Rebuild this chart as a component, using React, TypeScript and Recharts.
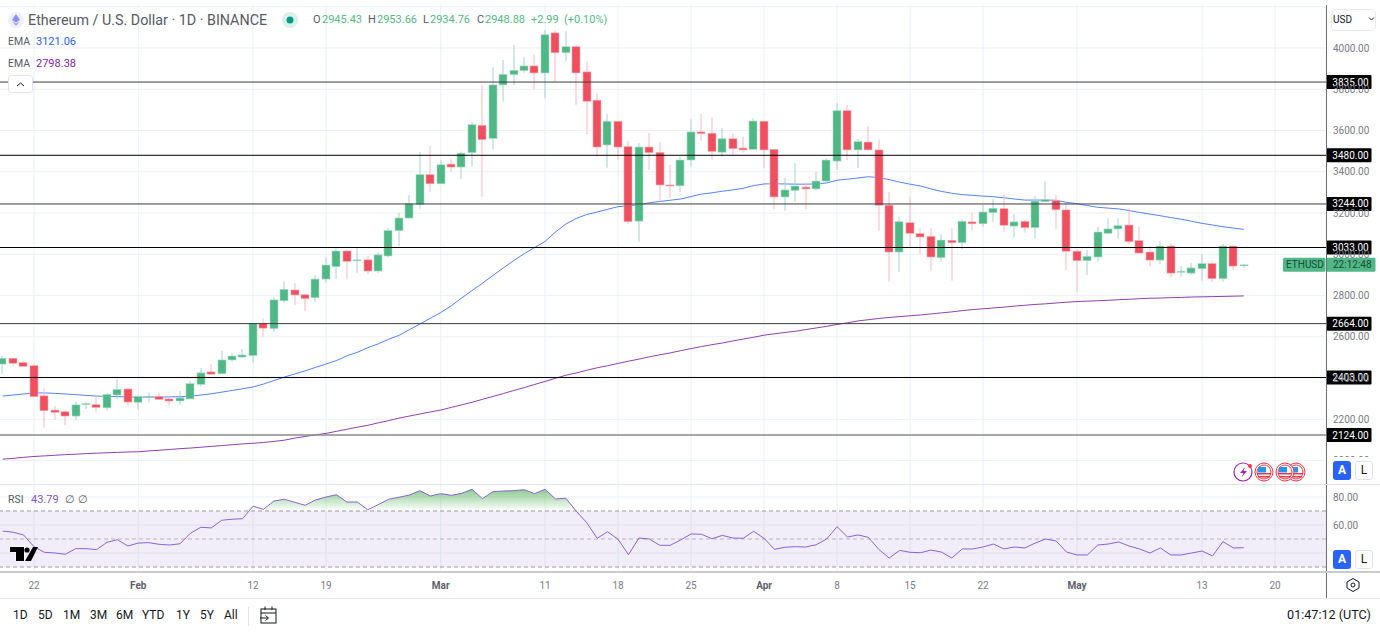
import { ComposedChart, Bar, Line, Area, XAxis, YAxis, CartesianGrid, ReferenceLine, ReferenceArea } from 'recharts';

// days counted from Jan 19, one entry per daily candle
const opens = [2468,2496,2475,2460,2314,2245,2237,2216,2272,2271,2256,2318,2347,2283,2310,2310,2299,2289,2299,2370,2430,2421,2488,2502,2509,2666,2640,2775,2827,2804,2790,2880,2940,3016,2969,2973,2919,2992,3115,3176,3242,3386,3342,3437,3423,3493,3625,3562,3821,3871,3890,3913,3879,4073,3977,4006,3884,3747,3530,3645,3522,3161,3520,3494,3336,3332,3457,3593,3587,3495,3560,3515,3509,3645,3509,3278,3310,3326,3317,3355,3452,3696,3506,3544,3506,3238,3011,3153,3100,3087,2984,3068,3056,3157,3148,3202,3221,3137,3160,3129,3255,3260,3215,3015,2969,2987,3102,3123,3142,3066,3011,2972,3040,2914,2909,2930,2955,2882,3040,2945.43];
const highs = [2507,2497,2484,2467,2351,2265,2242,2286,2286,2310,2326,2394,2353,2318,2329,2327,2310,2338,2387,2449,2468,2533,2520,2541,2666,2690,2792,2868,2860,2808,2899,2985,3029,3021,3029,2992,3008,3126,3202,3287,3497,3525,3457,3460,3498,3643,3821,3906,3942,4015,3955,3968,4087,4087,4082,4015,3934,3780,3679,3645,3549,3539,3589,3543,3434,3473,3654,3680,3664,3612,3587,3570,3659,3645,3509,3370,3441,3349,3400,3465,3732,3724,3559,3622,3557,3302,3181,3279,3126,3126,3098,3126,3170,3202,3239,3268,3292,3194,3166,3283,3355,3287,3250,3024,3021,3134,3175,3175,3223,3134,3040,3064,3053,2943,2959,3002,2964,3050,3040,2953.66];
const lows = [2420,2459,2455,2310,2159,2197,2172,2197,2250,2237,2242,2298,2266,2248,2283,2294,2269,2269,2299,2358,2415,2419,2480,2499,2475,2600,2625,2766,2754,2724,2768,2863,2880,2878,2911,2905,2911,2985,3040,3170,3221,3303,3342,3399,3364,3425,3279,3509,3740,3821,3880,3801,3756,3835,3934,3724,3582,3473,3420,3457,3147,3061,3409,3255,3274,3303,3425,3551,3460,3473,3480,3493,3509,3418,3220,3211,3255,3220,3312,3352,3409,3457,3418,3506,3115,2868,2913,3037,3002,2924,2962,2872,3024,3118,3134,3158,3110,3081,3105,3077,3255,3123,2924,2817,2900,2964,3098,3076,3050,3005,2940,2952,2888,2891,2901,2872,2865,2868,2924,2934.76];
const closes = [2496,2472,2457,2310,2242,2234,2216,2270,2276,2258,2321,2345,2284,2310,2312,2297,2289,2304,2373,2425,2419,2488,2507,2512,2666,2642,2779,2830,2803,2785,2880,2948,3016,2966,2973,2919,2997,3115,3176,3245,3386,3342,3434,3423,3490,3628,3556,3821,3872,3892,3913,3879,4064,3977,4006,3879,3742,3520,3645,3520,3158,3520,3493,3336,3332,3457,3593,3585,3499,3560,3512,3506,3646,3506,3278,3312,3331,3317,3355,3457,3696,3506,3546,3506,3238,3011,3158,3102,3084,2987,3069,3056,3160,3148,3205,3223,3141,3157,3129,3258,3265,3216,3015,2969,2990,3108,3123,3139,3061,3006,2972,3040,2909,2918,2934,2955,2882,3040,2943,2948.88];
const emaFast = [2313,2318,2323,2328,2328,2326,2323,2320,2316,2313,2311,2310,2309,2308,2308,2308,2309,2310,2312,2318,2324,2332,2340,2348,2357,2371,2388,2405,2420,2435,2452,2468,2485,2508,2525,2547,2566,2588,2607,2635,2662,2690,2718,2750,2788,2824,2860,2897,2934,2970,3003,3033,3062,3108,3147,3174,3193,3205,3218,3231,3235,3240,3250,3256,3262,3268,3280,3292,3298,3306,3312,3320,3333,3341,3342,3341,3340,3340,3341,3346,3359,3364,3370,3376,3372,3362,3350,3340,3331,3317,3305,3296,3289,3286,3282,3279,3274,3268,3263,3263,3263,3262,3252,3245,3236,3228,3224,3220,3212,3203,3195,3187,3178,3170,3160,3150,3142,3134,3127,3121.06];
const emaSlow = [2007,2011,2016,2020,2023,2026,2029,2031,2034,2036,2038,2040,2042,2043,2047,2050,2054,2058,2061,2065,2069,2073,2077,2081,2084,2088,2093,2099,2109,2117,2125,2132,2142,2152,2162,2171,2183,2194,2206,2216,2226,2236,2245,2258,2270,2283,2297,2311,2325,2340,2354,2369,2384,2399,2414,2425,2438,2450,2460,2471,2482,2492,2503,2513,2522,2533,2543,2553,2562,2570,2580,2589,2598,2608,2615,2621,2627,2635,2643,2651,2660,2668,2677,2683,2689,2694,2698,2702,2706,2711,2716,2721,2727,2732,2736,2740,2744,2749,2753,2757,2760,2764,2768,2771,2773,2775,2777,2780,2782,2785,2787,2788,2790,2791,2793,2794,2795,2796,2797,2798.38];
const rsi = [55.7,54.8,52.9,44.5,40.5,40,39.1,43.1,43.1,42.4,47.6,49.5,45,47.1,47.4,46.2,45.7,46.6,54.1,58.4,57.9,63.4,64.1,64.5,73.4,71.2,77.1,78.4,76.2,74.1,77.9,80,81.6,76.4,76.4,70.9,74.5,78.4,79.8,81.4,84.5,80.7,82.4,81.2,82.6,85.5,78.8,83.8,84.3,84.5,85.2,82.4,85.5,78.6,79.1,69.8,61.6,50.5,55.2,49.8,38.8,50.7,50,45.5,45.5,49.3,53.6,53.4,50.2,52.6,50.7,50.5,55.5,50.5,42.6,44.1,44.5,44.3,45.9,50,58.8,51.4,52.9,51.2,42.6,36.4,41.9,40.5,40.2,42.1,40.7,36.4,42.9,42.9,44.3,46.4,42.9,44.3,43.6,47.1,50,48.6,40.7,38.6,38.6,45.7,46.4,47.9,45,42.9,40,43.6,38.6,38.6,40,41.4,37.9,48.1,43.6,43.79];

const levels = [3835, 3480, 3244, 3033, 2664, 2403, 2124];
const levelStrokes = ['#3c3c3c', '#000', '#3c3c3c', '#000', '#3c3c3c', '#000', '#8a8a8a'];
const levelWidths = [1, 1, 1, 1, 1, 1, 1.6];
const priceTicks = [4200, 4000, 3800, 3600, 3400, 3200, 3000, 2800, 2600, 2400, 2200, 2000];
const rsiTicks = [80, 60];
const rsiGrid = [80, 60, 40];
const dayTicks = [3, 13, 24, 31, 42, 52, 59, 66, 73, 80, 87, 94, 103, 115, 122];
const dayLabels = ['22', 'Feb', '12', '19', 'Mar', '11', '18', '25', 'Apr', '8', '15', '22', 'May', '13', '20'];
const rangeButtons = [['1D', 13], ['5D', 38], ['1M', 63], ['3M', 90], ['6M', 116], ['YTD', 142], ['1Y', 176], ['5Y', 200], ['All', 224]];

const rows = opens.map((open, i) => ({
  day: i,
  open,
  high: highs[i],
  low: lows[i],
  close: closes[i],
  range: [lows[i], highs[i]],
  emaFast: emaFast[i],
  emaSlow: emaSlow[i],
  rsi: rsi[i],
  above: [70, Math.max(rsi[i], 70)],
}));

const FONT = 'Roboto, sans-serif';
const UP = '#50b887';
const DOWN = '#ef5060';
const GRID = '#eaf0f5';
const DAY_DOMAIN = [-0.26, 126.88];
const lastClose = closes[closes.length - 1];

function Candle(props: any) {
  const { x, y, width, height, payload } = props;
  const perUnit = height / (payload.high - payload.low);
  const up = payload.close >= payload.open;
  const cx = Math.round(x + width / 2) ;
  const top = y + (payload.high - Math.max(payload.open, payload.close)) * perUnit;
  const h = Math.max(Math.abs(payload.close - payload.open) * perUnit, 1);
  return (
    <g>
      <line x1={cx} x2={cx} y1={y} y2={y + height} stroke={up ? '#a9d0d2' : '#f9b9c4'} strokeWidth={1} />
      <rect x={cx - 4} y={top} width={8} height={h} fill={up ? UP : DOWN} stroke={up ? '#a7dcc3' : '#f7a8b2'} strokeWidth={0.6} />
    </g>
  );
}

function PriceTag(props: any) {
  const { viewBox, text } = props;
  const x = viewBox.x + viewBox.width + 0.5;
  return (
    <g>
      <rect x={x} y={viewBox.y - 7} width={45} height={14} rx={1} fill="#000" />
      <text x={x + 24} y={viewBox.y + 3.5} textAnchor="middle" fill="#fff" fontSize={10} fontFamily={FONT}>{text}</text>
    </g>
  );
}

function LastTag(props: any) {
  const { viewBox } = props;
  const x = viewBox.x + viewBox.width;
  return (
    <g fontFamily={FONT} fontSize={10} fill="#174a37">
      <rect x={x - 43} y={viewBox.y - 7} width={42.5} height={14} rx={1.5} fill={UP} />
      <rect x={x} y={viewBox.y - 7} width={49.5} height={14} rx={1.5} fill={UP} />
      <text x={x - 40} y={viewBox.y + 3.5}>ETHUSD</text>
      <text x={x + 7} y={viewBox.y + 3.5}>22:12:48</text>
    </g>
  );
}

function DayTick(props: any) {
  const { x, y, payload } = props;
  const label = dayLabels[dayTicks.indexOf(payload.value)];
  const month = label && isNaN(Number(label));
  return (
    <text x={x} y={y + 11} textAnchor="middle" fontSize={10} fontFamily={FONT} fontWeight={month ? 700 : 400} fill={month ? '#5d606b' : '#787b86'}>
      {label}
    </text>
  );
}

function MainPane() {
  return (
    <ComposedChart width={1380} height={479} data={rows} margin={{ top: 0, right: 0, bottom: 0, left: 0 }} style={{ position: 'absolute', left: 0, top: 5 }}>
      <CartesianGrid stroke={GRID} horizontalValues={priceTicks} verticalValues={dayTicks} />
      <XAxis dataKey="day" type="number" domain={DAY_DOMAIN} allowDataOverflow ticks={dayTicks} hide />
      <YAxis
        orientation="right"
        width={54}
        domain={[1886.7, 4208.4]}
        allowDataOverflow
        ticks={priceTicks.slice(1)}
        interval={0}
        axisLine={false}
        tickLine={false}
        tickFormatter={(v) => v.toFixed(2)}
        tick={{ fontSize: 10, fontFamily: FONT, fill: '#787b86' }}
        tickMargin={1}
      />
      <Line dataKey="emaFast" stroke="#2962ff" strokeWidth={1} strokeOpacity={0.8} dot={false} isAnimationActive={false} zIndex={250} />
      <Line dataKey="emaSlow" stroke="#7b1fa2" strokeWidth={1} strokeOpacity={0.85} dot={false} isAnimationActive={false} zIndex={250} />
      <Bar dataKey="range" barSize={8} shape={<Candle />} isAnimationActive={false} />
      {levels.map((level, i) => (
        <ReferenceLine
          key={level}
          y={level}
          stroke={levelStrokes[i]}
          strokeWidth={levelWidths[i]}
          zIndex={450}
          label={(p: any) => <PriceTag {...p} text={level.toFixed(2)} />}
        />
      ))}
      <ReferenceLine y={lastClose} stroke="none" zIndex={450} label={(p: any) => <LastTag {...p} />} />
    </ComposedChart>
  );
}

function RsiPane() {
  return (
    <ComposedChart width={1380} height={113} data={rows} margin={{ top: 0, right: 0, bottom: 0, left: 0 }} style={{ position: 'absolute', left: 0, top: 485 }}>
      <defs>
        <linearGradient id="overbought" x1="0" y1="0" x2="0" y2="1">
          <stop offset="0%" stopColor="#4caf50" stopOpacity={0.65} />
          <stop offset="100%" stopColor="#4caf50" stopOpacity={0} />
        </linearGradient>
      </defs>
      <CartesianGrid stroke={GRID} horizontalValues={rsiGrid} verticalValues={dayTicks} />
      <XAxis
        dataKey="day"
        type="number"
        domain={DAY_DOMAIN}
        allowDataOverflow
        ticks={dayTicks}
        interval={0}
        height={28}
        axisLine={false}
        tickLine={false}
        tick={<DayTick />}
      />
      <YAxis
        orientation="right"
        width={54}
        domain={[27.86, 88.57]}
        allowDataOverflow
        ticks={rsiTicks}
        interval={0}
        axisLine={false}
        tickLine={false}
        tickFormatter={(v) => v.toFixed(2)}
        tick={{ fontSize: 10, fontFamily: FONT, fill: '#787b86' }}
        tickMargin={1}
      />
      <ReferenceArea y1={30} y2={70} fill="#7e57c2" fillOpacity={0.1} stroke="none" />
      <ReferenceLine y={70} stroke="#9a9aa2" strokeDasharray="4 3" />
      <ReferenceLine y={50} stroke="#b4b4ba" strokeDasharray="4 3" />
      <ReferenceLine y={30} stroke="#9a9aa2" strokeDasharray="4 3" />
      <Area dataKey="above" stroke="none" fill="url(#overbought)" fillOpacity={1} dot={false} isAnimationActive={false} />
      <Line dataKey="rsi" stroke="#8a63d2" strokeWidth={1} dot={false} isAnimationActive={false} />
    </ComposedChart>
  );
}

function Flag({ cx }: { cx: number }) {
  return (
    <g>
      <circle cx={cx} cy={472} r={9} fill="#fff" stroke="#f23645" strokeWidth={1} />
      <circle cx={cx} cy={472} r={7} fill="#fff" stroke="#f23645" strokeWidth={1} />
      <rect x={cx - 7} y={473} width={14} height={1.5} fill="#f23645" />
      <rect x={cx - 6} y={476} width={12} height={1.5} fill="#f23645" />
      <rect x={cx - 6} y={467} width={8} height={5.5} fill="#2196f3" />
    </g>
  );
}

function Overlays() {
  const small = { position: 'absolute', whiteSpace: 'nowrap', lineHeight: '14px' } as const;
  const btn = (left: number, top: number, on: boolean, text: string) => (
    <div style={{ position: 'absolute', left, top, width: 18, height: 19, borderRadius: 3, background: on ? '#2962ff' : '#fff', border: on ? 'none' : '1px solid #e0e3eb', boxSizing: 'border-box', color: on ? '#fff' : '#131722', fontSize: 12, fontWeight: on ? 700 : 400, textAlign: 'center', lineHeight: on ? '19px' : '17px' }}>
      {text}
    </div>
  );
  const ohlc: [string, number, string, number][] = [['O', 313, '2945.43', 322], ['H', 368, '2953.66', 377], ['L', 423, '2934.76', 430], ['C', 477, '2948.88', 485]];
  return (
    <>
      <div style={{ position: 'absolute', left: 1327, top: 457, width: 53, height: 27, background: '#fff' }} />
      <div style={{ position: 'absolute', left: 1326, top: 5, width: 1, height: 593, background: '#6a6d78' }} />
      <div style={{ position: 'absolute', left: 0, top: 484, width: 1380, height: 1, background: '#e0e3eb' }} />
      <div style={{ position: 'absolute', left: 0, top: 571, width: 1380, height: 2, background: '#c9cbd0' }} />
      <div style={{ position: 'absolute', left: 0, top: 598, width: 1326, height: 1, background: '#e6e8ee' }} />
      <div style={{ position: 'absolute', left: 1327, top: 598, width: 53, height: 1, background: '#e6e8ee' }} />
      <div style={{ position: 'absolute', left: 8, top: 75, width: 25, height: 18, border: '1px solid #e0e3eb', borderRadius: 3, boxSizing: 'border-box', background: '#fff' }} />

      <svg width={1380} height={633} style={{ position: 'absolute', left: 0, top: 0, pointerEvents: 'none' }}>
        <circle cx={16} cy={20} r={8} fill="#eef0fb" />
        <path d="M16 14 L20 20 L16 22.5 L12 20 Z" fill="#8c8ff0" />
        <path d="M16 23.5 L20 21 L16 26 L12 21 Z" fill="#b79cf0" />
        <circle cx={290} cy={20} r={8} fill="#d9f0ea" />
        <circle cx={290} cy={20} r={3.5} fill="#089981" />
        <path d="M17 86 L20.5 83 L24 86" fill="none" stroke="#131722" strokeWidth={1} />
        <path d="M10 547 H24 V561 H16 V552 H10 Z" fill="#000" stroke="#fff" strokeWidth={1} paintOrder="stroke" />
        <circle cx={27} cy={550} r={2.6} fill="#000" />
        <path d="M33 547 H38 L31 561 H25 Z" fill="#000" />
        <circle cx={1243} cy={472} r={9} fill="#fff" stroke="#9c27b0" strokeWidth={1.2} />
        <path d="M1245 467 L1240 473 H1243.5 L1241.5 477.5 L1247 471 H1243.5 Z" fill="#9c27b0" />
        <circle cx={1250} cy={466} r={2} fill="#f23645" />
        <Flag cx={1296} />
        <Flag cx={1285} />
        <Flag cx={1264} />
        <path d="M1353 578.5 L1359 582 V588 L1353 591.5 L1347 588 V582 Z" fill="none" stroke="#131722" strokeWidth={1} />
        <circle cx={1353} cy={585} r={2} fill="none" stroke="#131722" strokeWidth={1} />
        <rect x={261} y={609} width={15} height={14} fill="#fff" stroke="#131722" strokeWidth={1} />
        <path d="M261 613 H276 M265 606.5 V610 M272 606.5 V610 M260 618 H268 M265.5 615.5 L268.5 618 L265.5 620.5" fill="none" stroke="#131722" strokeWidth={1} />
        <path d="M1369 17.5 L1371.5 20 L1374 17.5" fill="none" stroke="#131722" strokeWidth={1} />
      </svg>

      <div style={{ ...small, left: 28, top: 13, fontSize: 14.3, color: '#555a66' }}>Ethereum / U.S. Dollar · 1D · BINANCE</div>
      {ohlc.map(([k, kx, v, vx]) => (
        <div key={k}>
          <div style={{ ...small, left: kx, top: 13, fontSize: 11, color: '#555a66' }}>{k}</div>
          <div style={{ ...small, left: vx, top: 13, fontSize: 11, color: '#53b987' }}>{v}</div>
        </div>
      ))}
      <div style={{ ...small, left: 531, top: 13, fontSize: 11, color: '#53b987' }}>+2.99</div>
      <div style={{ ...small, left: 564, top: 13, fontSize: 11, color: '#53b987' }}>(+0.10%)</div>
      <div style={{ ...small, left: 8, top: 35, fontSize: 10.5, color: '#555a66' }}>EMA</div>
      <div style={{ ...small, left: 36, top: 35, fontSize: 11, color: '#2962ff' }}>3121.06</div>
      <div style={{ ...small, left: 8, top: 57, fontSize: 10.5, color: '#555a66' }}>EMA</div>
      <div style={{ ...small, left: 36, top: 57, fontSize: 11, color: '#7b1fa2' }}>2798.38</div>
      <div style={{ ...small, left: 8, top: 493, fontSize: 10.5, color: '#555a66' }}>RSI</div>
      <div style={{ ...small, left: 31, top: 493, fontSize: 11, color: '#7e57c2' }}>43.79</div>
      <div style={{ ...small, left: 65, top: 493, fontSize: 10.5, color: '#555a66' }}>∅</div>
      <div style={{ ...small, left: 78, top: 493, fontSize: 10.5, color: '#555a66' }}>∅</div>

      <div style={{ position: 'absolute', left: 1331, top: 9, width: 45, height: 22, border: '1px solid #e8eaef', borderRadius: 4, boxSizing: 'border-box' }} />
      <div style={{ ...small, left: 1333, top: 13, fontSize: 10, color: '#131722' }}>USD</div>
      {btn(1333, 461, true, 'A')}
      {btn(1355, 461, false, 'L')}
      {btn(1333, 550, true, 'A')}
      {btn(1355, 550, false, 'L')}

      {rangeButtons.map(([t, x]) => (
        <div key={t as string} style={{ ...small, left: x as number, top: 608, fontSize: 12, color: '#131722' }}>{t}</div>
      ))}
      <div style={{ position: 'absolute', left: 248, top: 607, width: 1, height: 19, background: '#e0e3eb' }} />
      <div style={{ ...small, right: 9, top: 608, fontSize: 12.6, color: '#131722' }}>01:47:12 (UTC)</div>
    </>
  );
}

export default function App() {
  return (
    <div style={{ position: 'absolute', left: 0, top: 0, width: 1380, height: 633, overflow: 'hidden', background: '#fff', fontFamily: FONT }}>
      <MainPane />
      <RsiPane />
      <Overlays />
    </div>
  );
}
